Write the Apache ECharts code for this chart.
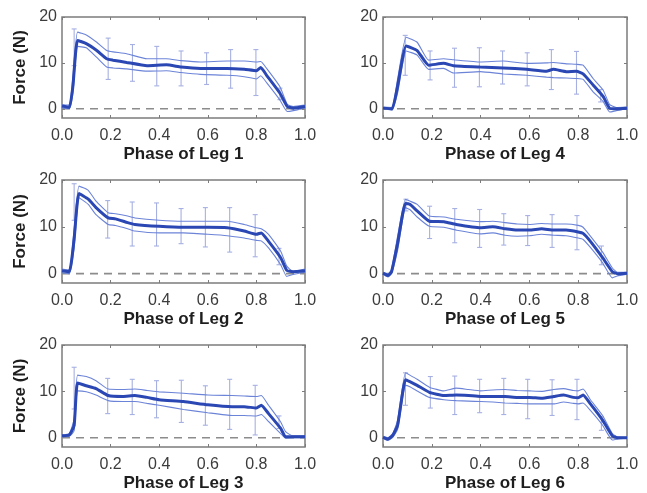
<!DOCTYPE html>
<html>
<head>
<meta charset="utf-8">
<script src="https://cdn.jsdelivr.net/npm/echarts@6/dist/echarts.min.js"></script>
<style>
html,body{margin:0;padding:0;background:#fff;}
#chart{width:647px;height:493px;}
</style>
</head>
<body>
<div id="chart"></div>
<script>
// ---------- data ----------
const xTickValues = [0, 0.2, 0.4, 0.6, 0.8, 1.0];
const yTickValues = [0, 10, 20];
const panelTitles = ['Phase of Leg 1', 'Phase of Leg 4', 'Phase of Leg 2', 'Phase of Leg 5', 'Phase of Leg 3', 'Phase of Leg 6'];

// Leg 1
const leg1X     = [0, 0.03, 0.045, 0.064, 0.1, 0.143, 0.184, 0.21, 0.266, 0.35, 0.43, 0.49, 0.57, 0.68, 0.75, 0.80, 0.818, 0.842, 0.897, 0.927, 0.952, 1.0];
const leg1Mean  = [0.6, 0.3, 5.0, 14.9, 14.2, 12.7, 10.9, 10.6, 10.1, 9.4, 9.6, 9.1, 8.8, 8.8, 8.6, 8.3, 9.0, 7.3, 3.4, 0.5, 0.15, 0.5];
const leg1Upper = [0.9, 0.8, 7.0, 16.7, 16.1, 14.5, 12.7, 12.4, 12.0, 10.9, 10.9, 10.5, 10.2, 10.4, 10.4, 10.2, 10.3, 8.8, 4.8, 1.0, 0.5, 0.8];
const leg1Lower = [0.2, 0.0, 3.5, 13.6, 13.3, 11.2, 9.1, 8.9, 8.7, 8.2, 8.3, 7.9, 7.5, 7.3, 7.0, 6.5, 7.2, 5.7, 1.9, -0.6, -0.4, 0.2];
const leg1ErrX  = [0.05, 0.19, 0.29, 0.39, 0.49, 0.595, 0.694, 0.798, 0.897];
const leg1ErrHi = [17.4, 15.4, 14.0, 13.6, 12.6, 12.2, 12.9, 12.9, 4.5];
const leg1ErrLo = [9.4, 6.4, 6.0, 5.0, 5.0, 5.3, 4.5, 2.9, 2.0];

// Leg 2
const leg2X     = [0, 0.03, 0.05, 0.07, 0.108, 0.14, 0.19, 0.22, 0.27, 0.3, 0.4, 0.5, 0.6, 0.68, 0.75, 0.8, 0.82, 0.85, 0.9, 0.925, 0.95, 1.0];
const leg2Mean  = [0.6, 0.4, 7.5, 17.1, 15.9, 14.1, 11.9, 11.7, 10.9, 10.5, 10.1, 9.9, 9.9, 9.8, 9.1, 8.4, 8.7, 6.9, 3.4, 0.7, 0.4, 0.6];
const leg2Upper = [1.0, 0.8, 9.5, 18.7, 17.8, 15.5, 13.0, 12.8, 12.3, 11.9, 11.4, 11.2, 11.2, 11.2, 10.5, 9.8, 9.6, 8.4, 4.8, 1.6, 0.5, 1.0];
const leg2Lower = [0.2, 0.0, 5.5, 16.2, 14.8, 12.6, 10.5, 10.3, 9.6, 9.1, 8.7, 8.7, 8.4, 8.1, 7.6, 7.1, 7.0, 5.5, 1.9, -0.6, -0.2, 0.3];
const leg2ErrX  = [0.05, 0.188, 0.289, 0.389, 0.49, 0.59, 0.69, 0.795, 0.893];
const leg2ErrHi = [19.2, 15.6, 15.3, 15.1, 13.9, 14.1, 14.1, 12.6, 5.4];
const leg2ErrLo = [11.4, 7.6, 5.9, 5.9, 6.4, 5.7, 4.6, 3.6, 1.9];

// Leg 3
const leg3X     = [0, 0.03, 0.05, 0.064, 0.1, 0.14, 0.19, 0.25, 0.3, 0.35, 0.4, 0.5, 0.6, 0.7, 0.75, 0.8, 0.82, 0.85, 0.9, 0.92, 0.95, 1.0];
const leg3Mean  = [0.4, 0.6, 2.7, 11.8, 11.2, 10.6, 9.1, 8.9, 9.1, 8.7, 8.2, 7.8, 7.1, 6.7, 6.7, 6.4, 7.0, 5.2, 2.0, 0.2, 0.2, 0.2];
const leg3Upper = [0.6, 0.9, 4.0, 13.5, 13.2, 12.3, 10.5, 10.4, 10.5, 10.2, 9.9, 9.6, 9.2, 9.1, 9.0, 8.9, 9.1, 7.0, 3.4, 1.3, 0.4, 0.4];
const leg3Lower = [0.2, 0.3, 1.5, 10.1, 9.9, 9.2, 8.0, 7.8, 7.8, 7.4, 7.0, 6.1, 5.4, 4.8, 4.8, 4.7, 5.0, 3.5, 0.9, -0.1, 0.0, 0.0];
const leg3ErrX  = [0.05, 0.188, 0.289, 0.389, 0.491, 0.59, 0.69, 0.795, 0.893];
const leg3ErrHi = [15.2, 12.8, 12.6, 12.3, 12.4, 11.2, 12.6, 11.3, 4.7];
const leg3ErrLo = [6.2, 5.2, 5.0, 4.3, 3.3, 2.7, 1.8, 0.6, 2.0];

// Leg 4
const leg4X     = [0, 0.037, 0.06, 0.095, 0.14, 0.187, 0.248, 0.289, 0.398, 0.493, 0.589, 0.67, 0.698, 0.752, 0.793, 0.82, 0.861, 0.902, 0.929, 0.956, 1.0];
const leg4Mean  = [0.15, 0.0, 5.0, 13.7, 12.7, 9.5, 9.9, 9.4, 9.1, 8.9, 8.6, 8.2, 8.6, 8.1, 8.2, 7.6, 5.2, 2.7, 0.1, 0.0, 0.15];
const leg4Upper = [0.4, 0.3, 6.5, 15.6, 14.5, 10.6, 10.9, 10.7, 10.2, 10.4, 9.9, 10.0, 10.1, 9.8, 9.7, 9.5, 6.6, 4.1, 0.9, 0.3, 0.4];
const leg4Lower = [0.0, -0.3, 3.5, 12.6, 11.7, 8.6, 8.8, 7.8, 8.1, 7.6, 7.3, 6.9, 6.8, 6.7, 6.6, 6.4, 3.7, 1.6, -0.7, -0.4, 0.0];
const leg4ErrX  = [0.091, 0.193, 0.293, 0.395, 0.49, 0.591, 0.69, 0.793, 0.892];
const leg4ErrHi = [16.0, 12.6, 13.2, 13.3, 12.6, 12.2, 12.9, 12.5, 4.2];
const leg4ErrLo = [7.3, 6.3, 4.7, 4.8, 5.4, 5.0, 4.2, 3.2, 1.5];

// Leg 5
const leg5X     = [0, 0.02, 0.035, 0.06, 0.092, 0.11, 0.14, 0.19, 0.25, 0.3, 0.4, 0.45, 0.5, 0.55, 0.6, 0.65, 0.7, 0.75, 0.8, 0.82, 0.85, 0.9, 0.94, 0.96, 1.0];
const leg5Mean  = [0.1, -0.4, 0.4, 6.5, 15.0, 14.8, 13.4, 11.2, 11.1, 10.5, 9.8, 10.0, 9.6, 9.3, 9.3, 9.6, 9.3, 9.3, 8.9, 8.6, 6.9, 3.4, 0.4, 0.0, 0.1];
const leg5Upper = [0.3, -0.1, 0.9, 8.0, 15.9, 15.5, 14.8, 12.3, 12.1, 11.6, 11.1, 11.2, 10.9, 10.6, 10.5, 10.7, 10.6, 10.6, 10.3, 9.9, 8.0, 4.6, 1.2, 0.3, 0.3];
const leg5Lower = [-0.1, -0.7, 0.0, 5.0, 14.1, 13.7, 12.1, 10.1, 9.9, 9.3, 8.5, 8.7, 8.2, 8.0, 8.1, 8.4, 8.2, 8.1, 7.6, 7.3, 5.6, 2.3, -0.9, -0.5, -0.1];
const leg5ErrX  = [0.094, 0.191, 0.294, 0.396, 0.495, 0.593, 0.693, 0.795, 0.895];
const leg5ErrHi = [15.9, 14.4, 13.9, 13.7, 12.8, 12.4, 12.6, 12.4, 5.9];
const leg5ErrLo = [13.4, 7.5, 6.6, 5.6, 6.1, 6.0, 5.6, 5.1, 1.9];

// Leg 6
const leg6X     = [0, 0.02, 0.04, 0.06, 0.092, 0.11, 0.14, 0.19, 0.25, 0.3, 0.35, 0.4, 0.45, 0.5, 0.55, 0.6, 0.65, 0.7, 0.74, 0.78, 0.8, 0.82, 0.85, 0.9, 0.94, 0.96, 1.0];
const leg6Mean  = [0.1, -0.3, 0.5, 2.7, 12.5, 12.1, 11.3, 9.8, 9.1, 9.2, 9.1, 8.9, 8.9, 8.9, 8.7, 8.7, 8.5, 8.9, 9.2, 8.7, 8.6, 9.2, 7.3, 3.8, 0.4, 0.0, 0.0];
const leg6Upper = [0.3, 0.0, 0.9, 3.8, 14.0, 13.5, 12.6, 10.9, 10.1, 10.7, 10.4, 10.1, 10.3, 10.4, 10.2, 10.1, 10.0, 10.4, 10.6, 10.2, 10.1, 10.5, 8.2, 4.8, 0.9, 0.2, 0.1];
const leg6Lower = [-0.1, -0.6, 0.1, 1.8, 11.3, 11.0, 10.1, 8.7, 8.2, 8.0, 7.9, 7.8, 7.7, 7.5, 7.4, 7.3, 7.3, 7.3, 7.7, 7.4, 7.3, 7.5, 5.9, 2.7, -0.5, -0.3, -0.1];
const leg6ErrX  = [0.092, 0.194, 0.294, 0.396, 0.495, 0.593, 0.693, 0.795, 0.895];
const leg6ErrHi = [14.0, 13.2, 13.3, 12.6, 12.8, 12.6, 12.5, 12.6, 4.5];
const leg6ErrLo = [7.0, 6.4, 5.0, 5.4, 5.0, 4.1, 4.8, 3.9, 1.6];

// ---------- build ----------
const panels = [
  {x: leg1X, mean: leg1Mean, up: leg1Upper, lo: leg1Lower, ex: leg1ErrX, eh: leg1ErrHi, el: leg1ErrLo},
  {x: leg4X, mean: leg4Mean, up: leg4Upper, lo: leg4Lower, ex: leg4ErrX, eh: leg4ErrHi, el: leg4ErrLo},
  {x: leg2X, mean: leg2Mean, up: leg2Upper, lo: leg2Lower, ex: leg2ErrX, eh: leg2ErrHi, el: leg2ErrLo},
  {x: leg5X, mean: leg5Mean, up: leg5Upper, lo: leg5Lower, ex: leg5ErrX, eh: leg5ErrHi, el: leg5ErrLo},
  {x: leg3X, mean: leg3Mean, up: leg3Upper, lo: leg3Lower, ex: leg3ErrX, eh: leg3ErrHi, el: leg3ErrLo},
  {x: leg6X, mean: leg6Mean, up: leg6Upper, lo: leg6Lower, ex: leg6ErrX, eh: leg6ErrHi, el: leg6ErrLo}
];

const colLeft = [62, 383];
const colWidth = [243, 244];
const rowTop = [17, 180, 345];
const rowHeight = [101, 103, 102];

const FONT = "'Liberation Sans', Arial, Helvetica, sans-serif";
const frameColor = '#7c7c7c';
const meanColor = '#2a47b3';
const sdColor = '#6c84d8';
const errColor = '#a6b0e2';

const grid = [], xAxis = [], yAxis = [], series = [];

panels.forEach((p, i) => {
  const col = i % 2, row = Math.floor(i / 2);
  grid.push({
    left: colLeft[col], top: rowTop[row], width: colWidth[col], height: rowHeight[row],
    show: true, borderColor: frameColor, borderWidth: 1.5, backgroundColor: 'transparent'
  });
  // bottom x axis
  xAxis.push({
    type: 'value', gridIndex: i, min: 0, max: 1, interval: 0.2, position: 'bottom',
    name: panelTitles[i], nameLocation: 'middle', nameGap: 28,
    nameTextStyle: {fontFamily: FONT, fontSize: 17, fontWeight: 'bold', color: '#1e1e1e'},
    axisLine: {show: false, onZero: false},
    axisTick: {show: true, inside: true, length: 3, lineStyle: {color: frameColor}},
    axisLabel: {fontFamily: FONT, fontSize: 16, color: '#3c3c3c', margin: 10,
      customValues: xTickValues, formatter: v => v.toFixed(1)},
    splitLine: {show: false}
  });
  // top x axis (ticks only)
  xAxis.push({
    type: 'value', gridIndex: i, min: 0, max: 1, interval: 0.2, position: 'top',
    axisLine: {show: false, onZero: false},
    axisTick: {show: true, inside: true, length: 3, lineStyle: {color: frameColor}},
    axisLabel: {show: false}, splitLine: {show: false}
  });
  // left y axis
  yAxis.push({
    type: 'value', gridIndex: i, min: -2, max: 20, position: 'left',
    name: col === 0 ? 'Force (N)' : '', nameLocation: 'middle', nameGap: 33,
    nameTextStyle: {fontFamily: FONT, fontSize: 17, fontWeight: 'bold', color: '#1e1e1e'},
    axisLine: {show: false, onZero: false},
    axisTick: {show: true, inside: true, length: 3, customValues: yTickValues, lineStyle: {color: frameColor}},
    axisLabel: {fontFamily: FONT, fontSize: 16, color: '#3c3c3c', margin: 5, customValues: yTickValues},
    splitLine: {show: false}
  });
  // right y axis (ticks only)
  yAxis.push({
    type: 'value', gridIndex: i, min: -2, max: 20, position: 'right',
    axisLine: {show: false, onZero: false},
    axisTick: {show: true, inside: true, length: 3, customValues: yTickValues, lineStyle: {color: frameColor}},
    axisLabel: {show: false}, splitLine: {show: false}
  });

  const xi = 2 * i, yi = 2 * i;
  // zero dashed line
  series.push({
    type: 'line', xAxisIndex: xi, yAxisIndex: yi, data: [[0, 0], [1, 0]],
    symbol: 'none', silent: true, z: 1,
    lineStyle: {color: '#8c8c8c', width: 1.6, type: [8, 6]}
  });
  // error bars
  series.push({
    type: 'custom', xAxisIndex: xi, yAxisIndex: yi, z: 2,
    data: p.ex.map((x, k) => [x, p.el[k], p.eh[k]]),
    encode: {x: 0, y: [1, 2]},
    renderItem: function (params, api) {
      const x = api.value(0), lo = api.value(1), hi = api.value(2);
      const a = api.coord([x, lo]), b = api.coord([x, hi]);
      const w = 2.5;
      const st = {stroke: errColor, lineWidth: 1.1};
      return {type: 'group', children: [
        {type: 'line', shape: {x1: a[0], y1: a[1], x2: b[0], y2: b[1]}, style: st},
        {type: 'line', shape: {x1: a[0] - w, y1: a[1], x2: a[0] + w, y2: a[1]}, style: st},
        {type: 'line', shape: {x1: b[0] - w, y1: b[1], x2: b[0] + w, y2: b[1]}, style: st}
      ]};
    }
  });
  // SD lines
  [p.up, p.lo].forEach(arr => {
    series.push({
      type: 'line', xAxisIndex: xi, yAxisIndex: yi, z: 3,
      data: p.x.map((x, k) => [x, arr[k]]), symbol: 'none', smooth: 0.15,
      lineStyle: {color: sdColor, width: 1.1}
    });
  });
  // mean line
  series.push({
    type: 'line', xAxisIndex: xi, yAxisIndex: yi, z: 4,
    data: p.x.map((x, k) => [x, p.mean[k]]), symbol: 'none', smooth: 0.15,
    lineStyle: {color: meanColor, width: 3}
  });
});

const chart = echarts.init(document.getElementById('chart'), null, {renderer: 'canvas'});
chart.setOption({animation: false, backgroundColor: '#fff', grid, xAxis, yAxis, series});
</script>
</body>
</html>
